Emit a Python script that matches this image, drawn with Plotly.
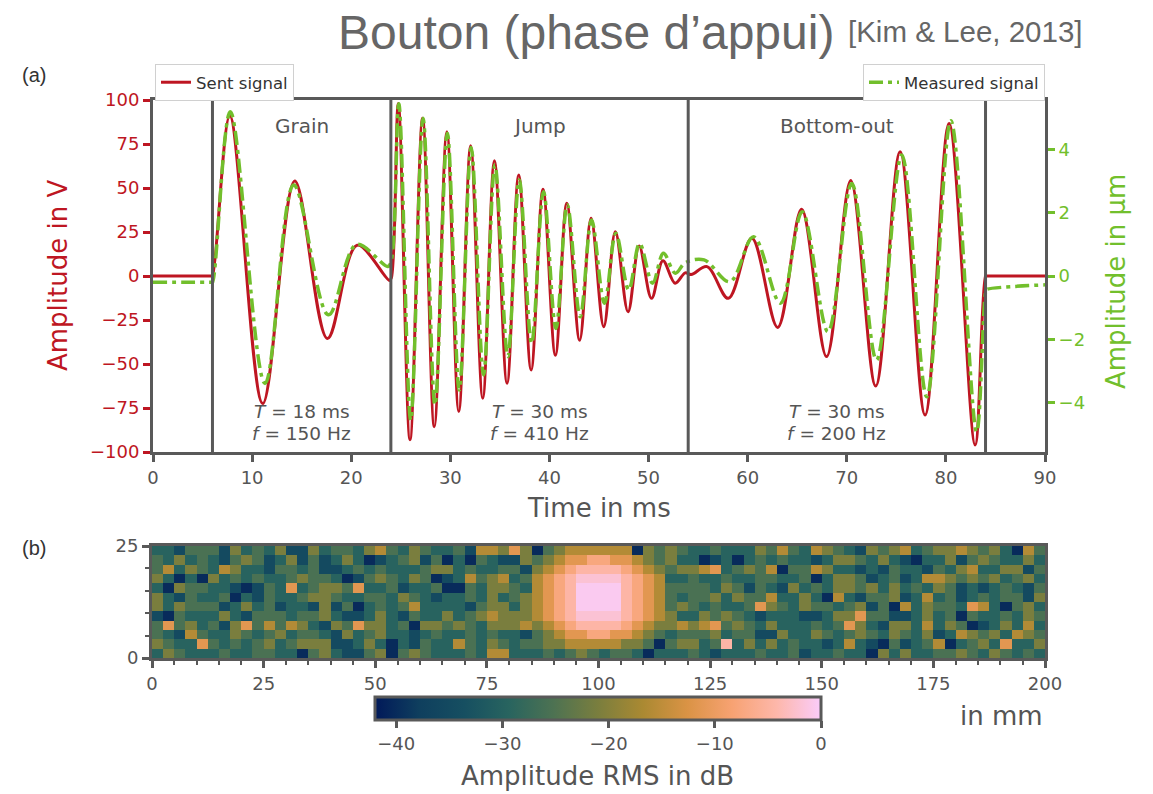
import plotly.graph_objects as go

FIG_W, FIG_H = 1153, 794


def fx(px):
    return px / FIG_W


def fy(py):
    return 1 - py / FIG_H


RED = "#BE1622"
GREEN = "#72BF2C"
GREY = "#555555"
FRAME = "#595959"
TICK_FONT = dict(family="DejaVu Sans", size=18, color=GREY)
LABEL_SIZE = 26

# ---------------- panel (a): drive signal vs. measured displacement ----------
# extrema of the drive voltage (ms, V)
sent_t = [0, 5.9, 6.0, 7.75, 11.07, 14.3, 17.6, 20.6, 23.85, 24.05,
          24.75, 25.93, 27.2, 28.38, 29.65, 30.85, 32.05, 33.27, 34.45, 35.72,
          36.9, 38.15, 39.35, 40.6, 41.75, 43.05, 44.2, 45.48, 46.65, 47.93,
          49.05, 50.3, 51.45, 52.68, 53.7, 54.3, 55.9, 58.05, 60.42, 63.03,
          65.44, 67.96, 70.4, 72.92, 75.38, 77.9, 80.32, 82.95, 84.0, 84.1,
          90]
sent_v = [0, 0, 0, 91, -72.5, 54, -35.5, 17.5, -2.5, -1,
          98, -93, 89.6, -85.6, 82, -77, 74, -69.5, 65.5, -61,
          57.4, -53.4, 49.3, -45, 41.3, -36.5, 32.8, -28.8, 25.2, -20.3,
          17, -12.7, 8.7, -4.1, 1.8, 0.8, 5.3, -12.7, 21.4, -29.2,
          37.9, -45.8, 54.2, -62.5, 70.6, -79, 86.7, -96, 0, 0,
          0]

# extrema of the measured displacement (ms, µm)
meas_t = [0, 5.9, 6.0, 7.8, 11.3, 14.2, 17.7, 20.55, 23.7, 24.05,
          24.8, 26.0, 27.25, 28.45, 29.7, 30.9, 32.1, 33.35, 34.5, 35.8,
          36.95, 38.2, 39.4, 40.65, 41.8, 43.1, 44.25, 45.55, 46.7, 48.0,
          49.1, 50.4, 51.5, 52.7, 53.7, 55.6, 58.2, 60.6, 63.3, 65.5,
          68.1, 70.5, 73.0, 75.55, 78.07, 80.5, 83.1, 84.05, 84.15, 90]
meas_um = [-0.2, -0.2, -0.2, 5.2, -3.4, 2.88, -1.23, 1.0, 0.3, 0.5,
           5.45, -4.56, 4.99, -4.08, 4.52, -3.61, 4.07, -3.13, 3.51, -2.55,
           3.04, -2.13, 2.67, -1.66, 2.25, -1.29, 1.77, -0.86, 1.35, -0.44,
           1.03, -0.23, 0.72, 0.09, 0.42, 0.51, -0.18, 1.24, -0.86, 2.03,
           -1.76, 2.93, -2.66, 3.83, -3.82, 4.91, -4.93, -0.45, -0.42, -0.28]

section_edges = [6, 24, 54, 84]
section_names = ["Grain", "Jump", "Bottom-out"]
section_period = ["18 ms", "30 ms", "30 ms"]
section_freq = ["150 Hz", "410 Hz", "200 Hz"]

time_ticks = [0, 10, 20, 30, 40, 50, 60, 70, 80, 90]
volt_ticks = [-100, -75, -50, -25, 0, 25, 50, 75, 100]
um_ticks = [-4, -2, 0, 2, 4]

# ---------------- panel (b): RMS amplitude map (dB) --------------------------
rms_levels = {"N": -40, "B": -35, "T": -29.5, "G": -25.5, "O": -21, "Y": -16,
              "R": -11.5, "S": -7.5, "P": -4.5, "V": -2, "W": -0.5}
# one string per row of cells, top row first, 80 cells of 2.5 mm each
rms_rows = [
    "TTBGGGBOTGTOBBOTGGTO" "YGTOGTTGBYYORO" "NGOYYYYYYNOG" "OGTTGTTTOGYGTYO" "GTBOGOYTGOOYOGOTNYG",
    "GTOTGTBGOGBTOBGBTOTN" "BTGOBGNTNGTBBO" "GOYRRSSRRYOG" "OTTNBTNTGTGTTBT" "OOGTOTBNTTOBGOGTTOT",
    "GYTOGTYOTTBGGTGBBTGT" "GTTTGOOTGTTGGB" "OYRSPPPPSRYO" "GOOYRTGOGYNGGYO" "TTBTBGTTBGTOYTTOOBG",
    "OTNTNOTGTGTTGOGGTNBG" "OGTOGNBTYGOYTG" "YRSPVVVVPSRY" "TTGTTGTTGGTTGNT" "OOGBTGBTYYOGOGOTGOT",
    "TNOGGTTBNBGTRTGOOGRT" "TGBTTGNNGTOOGT" "YRSPWWWWPSRY" "GGGGTOGBGTBOTGT" "OOGOTOTGTOGBTBTGTBG",
    "OTBGTTGNTBGTTGOOGTTG" "GTOGTBTTGTOTGO" "YRSPWWWWPSRY" "GTGGOTOGGYTTOTN" "YTBGGOBTYTGBTGTGGBO",
    "OTOGGGBTOTGBTTBOBGNT" "GTGYTTTTBGOOTO" "YRSPWWWWPSRY" "GOGTGTTGROGTOGG" "TGOBGNYTOGGTRYTNGOT",
    "BNGTTTOTBGGGTGGOTBBT" "OTBGTTOTGOYOOO" "YRSPVVVVPSRY" "OTTOGOGTBTTTBBT" "OORGGBBTOTGNGTTGTOG",
    "GRGOTGBORGYGYOTBOGRO" "OTGNOOGOGTOOOY" "OYRSPPPPSRYO" "OYOYRGOGTOTTTGT" "GROTBOOTYTOGNBTOTYT",
    "GTBYGTTOGTGOTGGTBOTG" "OTTBTGTTGTGTTB" "GOYRRSSRRYOG" "TGGGOTGGBBOTTOG" "TGOGTOGTOBTYOGOTYOG",
    "OGTTRGTGTGOTGOOOBBTO" "TNTBGTTYGTOGTG" "GOOYYYYYOOGN" "GOOTGPTOTOTGTTB" "TYTBNGBTGYNTGOTRTTO",
    "TOGTTTGTTGGTTNGOTBBG" "ONGOGTTTGTYYTT" "TGTGOGTGGTNT" "TTGTBTTTGTTGBTT" "GTTNOTOTTGGOGTOGTGT",
]
map_width_mm, map_height_mm = 200, 25
map_ticks_x = [0, 25, 50, 75, 100, 125, 150, 175, 200]
map_ticks_y = [0, 25]
db_ticks = [-40, -30, -20, -10, 0]
db_min, db_max = -42, 0

batlow = [[0.0, "#011959"], [0.1, "#0F3F5E"], [0.2, "#164F61"],
          [0.3, "#28645F"], [0.4, "#4D7252"], [0.5, "#7A7E3E"],
          [0.6, "#AA8932"], [0.7, "#DA9345"], [0.8, "#F7A272"],
          [0.9, "#FDB7AA"], [1.0, "#FACCFA"]]

z_rows = [[rms_levels[c] for c in row] for row in reversed(rms_rows)]
n_rows, n_cols = len(z_rows), len(z_rows[0])
cell_w = map_width_mm / n_cols
cell_h = map_height_mm / n_rows

fig = go.Figure()

fig.add_trace(go.Scatter(
    x=sent_t, y=sent_v, mode="lines", name="Sent signal",
    line=dict(color=RED, width=3, shape="spline", smoothing=1.0),
    xaxis="x", yaxis="y", legend="legend",
))
fig.add_trace(go.Scatter(
    x=meas_t, y=meas_um, mode="lines", name="Measured signal",
    line=dict(color=GREEN, width=3.5, shape="spline", smoothing=1.0,
              dash="14px,5px,4px,5px"),
    xaxis="x", yaxis="y2", legend="legend2",
))

fig.add_trace(go.Heatmap(
    z=z_rows, x0=cell_w / 2, dx=cell_w, y0=cell_h / 2, dy=cell_h,
    colorscale=batlow, zmin=db_min, zmax=db_max,
    xaxis="x2", yaxis="y3",
    colorbar=dict(
        orientation="h", x=fx(598), xanchor="center", y=fy(697),
        yanchor="top", len=446 / FIG_W, lenmode="fraction", thickness=23,
        xpad=0, ypad=0, outlinewidth=3, outlinecolor=FRAME,
        tickmode="array", tickvals=db_ticks, ticks="outside", ticklen=7,
        tickwidth=2.5, tickcolor=FRAME, tickfont=TICK_FONT,
    ),
))

# section separators
shapes = []
for edge in section_edges:
    shapes.append(dict(type="line", xref="x", yref="y domain", x0=edge,
                       x1=edge, y0=0, y1=1,
                       line=dict(color=FRAME, width=3)))

label_font = dict(family="DejaVu Sans", size=LABEL_SIZE, color=GREY)
annotations = [
    dict(text="Bouton (phase d’appui)", x=fx(586), y=fy(33), xref="paper",
         yref="paper", showarrow=False, xanchor="center", yanchor="middle",
         font=dict(family="Liberation Sans", size=48, color="#666666")),
    dict(text="[Kim &amp; Lee, 2013]", x=fx(846), y=fy(31), xref="paper",
         yref="paper", showarrow=False, xanchor="left", yanchor="middle",
         font=dict(family="Liberation Sans", size=29.5, color="#666666")),
    dict(text="(a)", x=fx(20), y=fy(75), xref="paper", yref="paper",
         showarrow=False, xanchor="left", yanchor="middle",
         font=dict(family="Liberation Sans", size=20, color="#333333")),
    dict(text="(b)", x=fx(20), y=fy(548), xref="paper", yref="paper",
         showarrow=False, xanchor="left", yanchor="middle",
         font=dict(family="Liberation Sans", size=20, color="#333333")),
    dict(text="Amplitude in V", x=fx(58), y=fy(276), xref="paper",
         yref="paper", showarrow=False, textangle=-90,
         xanchor="center", yanchor="middle",
         font=dict(family="DejaVu Sans", size=LABEL_SIZE, color=RED)),
    dict(text="Amplitude in µm", x=fx(1116), y=fy(282), xref="paper",
         yref="paper", showarrow=False, textangle=-90,
         xanchor="center", yanchor="middle",
         font=dict(family="DejaVu Sans", size=LABEL_SIZE, color=GREEN)),
    dict(text="Time in ms", x=fx(599), y=fy(508), xref="paper",
         yref="paper", showarrow=False, xanchor="center", yanchor="middle",
         font=label_font),
    dict(text="in mm", x=fx(1045), y=fy(716), xref="paper", yref="paper",
         showarrow=False, xanchor="right", yanchor="middle",
         font=label_font),
    dict(text="Amplitude RMS in dB", x=fx(598), y=fy(776), xref="paper",
         yref="paper", showarrow=False, xanchor="center", yanchor="middle",
         font=label_font),
]

name_font = dict(family="DejaVu Sans", size=20, color=GREY)
param_font = dict(family="DejaVu Sans", size=18.5, color=GREY)
for i, name in enumerate(section_names):
    mid = (section_edges[i] + section_edges[i + 1]) / 2
    annotations.append(dict(text=name, x=mid, y=fy(126), xref="x",
                            yref="paper", showarrow=False,
                            xanchor="center", yanchor="middle",
                            font=name_font))
    annotations.append(dict(text=f"<i>T</i> = {section_period[i]}", x=mid,
                            y=fy(411), xref="x", yref="paper",
                            showarrow=False, xanchor="center",
                            yanchor="middle", font=param_font))
    annotations.append(dict(text=f"<i>f</i> = {section_freq[i]}", x=mid,
                            y=fy(433), xref="x", yref="paper",
                            showarrow=False, xanchor="center",
                            yanchor="middle", font=param_font))

axis_common = dict(showgrid=False, zeroline=False, showline=True,
                   linecolor=FRAME, linewidth=3, ticks="outside", ticklen=7,
                   tickwidth=2.5, automargin=False)

legend_font = dict(family="DejaVu Sans", size=16.5, color="#333333")

fig.update_layout(
    width=FIG_W, height=FIG_H,
    margin=dict(l=0, r=0, t=0, b=0, autoexpand=False),
    paper_bgcolor="white", plot_bgcolor="white",
    xaxis=dict(domain=[fx(153), fx(1045)], range=[0, 90], anchor="y",
               tickmode="array", tickvals=time_ticks, mirror=True,
               tickcolor=FRAME, tickfont=TICK_FONT, **axis_common),
    yaxis=dict(domain=[fy(452), fy(100)], range=[-100, 100], anchor="x",
               tickmode="array", tickvals=volt_ticks, tickcolor=RED,
               tickfont=dict(family="DejaVu Sans", size=18, color=RED),
               **axis_common),
    yaxis2=dict(overlaying="y", side="right", anchor="x",
                range=[-5.57, 5.57], tickmode="array", tickvals=um_ticks,
                tickcolor=GREEN,
                tickfont=dict(family="DejaVu Sans", size=18, color=GREEN),
                **axis_common),
    xaxis2=dict(domain=[fx(152), fx(1045)], range=[0, map_width_mm],
                anchor="y3", tickmode="array", tickvals=map_ticks_x,
                mirror=True, tickcolor=FRAME, tickfont=TICK_FONT,
                minor=dict(dtick=5, ticks="outside", ticklen=4,
                           tickwidth=1.5, tickcolor=FRAME),
                **axis_common),
    yaxis3=dict(domain=[fy(658), fy(546)], range=[0, map_height_mm],
                anchor="x2", tickmode="array", tickvals=map_ticks_y,
                mirror=True, tickcolor=FRAME, tickfont=TICK_FONT,
                minor=dict(dtick=5, ticks="outside", ticklen=4,
                           tickwidth=1.5, tickcolor=FRAME),
                **axis_common),
    legend=dict(x=fx(155), y=fy(64), xanchor="left", yanchor="top",
                bgcolor="white", bordercolor="#d0d0d0", borderwidth=1,
                font=legend_font, itemwidth=30),
    legend2=dict(x=fx(1045), y=fy(64), xanchor="right", yanchor="top",
                 bgcolor="white", bordercolor="#d0d0d0", borderwidth=1,
                 font=legend_font, itemwidth=30),
    shapes=shapes,
    annotations=annotations,
    showlegend=True,
)

fig.write_html("out.html")
